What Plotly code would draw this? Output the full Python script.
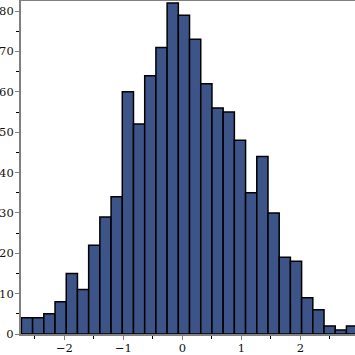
import plotly.graph_objects as go

# Histogram data (30 equal bins, total 1000 samples)
bin_start = -2.728
bin_width = 0.19
counts = [4, 4, 5, 8, 15, 11, 22, 29, 34, 60, 52, 64, 71, 82, 79,
          73, 62, 56, 55, 48, 35, 44, 30, 19, 18, 9, 6, 2, 1, 2]
x_ticks = [-2, -1, 0, 1, 2]
y_ticks = [0, 10, 20, 30, 40, 50, 60, 70, 80]

centers = [bin_start + bin_width * (i + 0.5) for i in range(len(counts))]

fig = go.Figure(go.Bar(
    x=centers, y=counts, width=bin_width,
    marker=dict(color="#3c5487", line=dict(color="black", width=1.5)),
    hoverinfo="skip",
))

axis_font = dict(family="DejaVu Serif", size=11.5, color="#111")
fig.update_layout(
    width=355, height=355,
    margin=dict(l=21, r=0, t=1, b=21, autoexpand=False),
    paper_bgcolor="white", plot_bgcolor="white",
    showlegend=False, bargap=0,
    xaxis=dict(
        range=[-2.735, 2.927], tickvals=x_ticks, showgrid=False, zeroline=False,
        automargin=False,
        showline=True, linecolor="#808080", linewidth=2, mirror=True,
        ticks="outside", ticklen=4, tickcolor="#808080", tickwidth=1,
        minor=dict(dtick=0.5, tick0=0, ticks="outside", ticklen=3, tickcolor="black", tickwidth=1),
        tickfont=axis_font, ticklabelstandoff=-2,
    ),
    yaxis=dict(
        range=[0, 82.5], tickvals=y_ticks, showgrid=False, zeroline=False,
        automargin=False,
        showline=True, linecolor="#808080", linewidth=2,
        ticks="outside", ticklen=4, tickcolor="#808080", tickwidth=1,
        minor=dict(dtick=5, tick0=0, ticks="outside", ticklen=3, tickcolor="black", tickwidth=1),
        tickfont=axis_font, ticklabelstandoff=-1,
    ),
)

fig.write_html(
    "out.html",
    config={"displayModeBar": False, "staticPlot": True},
    post_script="document.body.style.margin='0px';document.body.style.overflow='hidden';",
)
